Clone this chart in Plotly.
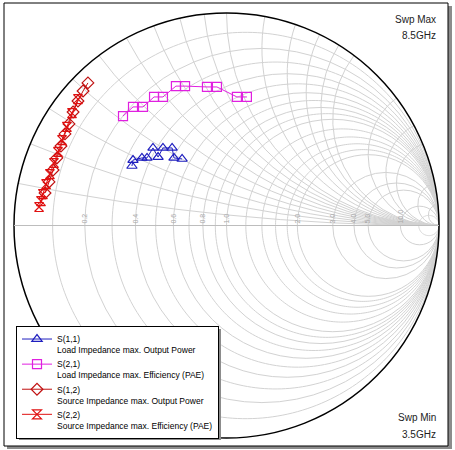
import numpy as np
import plotly.graph_objects as go

W, H = 455, 450

s11_re = [-0.445, -0.440, -0.398, -0.374, -0.346, -0.322, -0.299, -0.256, -0.247, -0.209]
s11_im = [0.280, 0.308, 0.318, 0.318, 0.365, 0.322, 0.365, 0.365, 0.318, 0.313]

s21_re = [-0.487, -0.440, -0.393, -0.341, -0.299, -0.238, -0.195, -0.092, -0.045, 0.049, 0.096]
s21_im = [0.515, 0.558, 0.558, 0.605, 0.605, 0.656, 0.656, 0.652, 0.652, 0.605, 0.605]

s12_re = [-0.652, -0.675, -0.699, -0.722, -0.741, -0.760, -0.779, -0.798, -0.816, -0.835, -0.854]
s12_im = [0.671, 0.633, 0.586, 0.534, 0.478, 0.431, 0.374, 0.318, 0.261, 0.205, 0.153]

s22_re = [-0.699, -0.727, -0.751, -0.774, -0.793, -0.812, -0.831, -0.849, -0.864, -0.873, -0.882]
s22_im = [0.595, 0.529, 0.464, 0.402, 0.346, 0.294, 0.242, 0.195, 0.148, 0.115, 0.087]

names = [
    "S(1,1)<br>Load Impedance max. Output Power",
    "S(2,1)<br>Load Impedance max. Efficiency (PAE)",
    "S(1,2)<br>Source Impedance max. Output Power",
    "S(2,2)<br>Source Impedance max. Efficiency (PAE)",
]
colors = ["#1f1fbf", "#e020e0", "#c01010", "#e01010"]
symbols = ["triangle-up-open", "square-open", "diamond-open", "hourglass-open"]

real_ticks = [0.2, 0.4, 0.6, 0.8, 1.0, 2.0, 3.0, 4.0, 5.0, 10.0]
real_minor = [0.1, 0.3, 0.5, 0.7, 0.9, 1.2, 1.4, 1.6, 1.8, 20.0]
imag_ticks = [0.1, 0.2, 0.3, 0.4, 0.5, 0.6, 0.7, 0.8, 0.9, 1.0, 1.2, 1.4, 1.6, 1.8,
              2.0, 3.0, 4.0, 5.0, 10.0, 20.0]

GRID = "#d2d2d2"


def to_z(re, im):
    g = np.array(re) + 1j * np.array(im)
    return (1 + g) / (1 - g)


fig = go.Figure()

# minor constant-resistance circles (grid)
t = np.linspace(0.02, 2 * np.pi - 0.02, 240)
for r in real_minor:
    g = r / (1 + r) + np.exp(1j * t) / (1 + r)
    z = (1 + g) / (1 - g)
    fig.add_trace(go.Scattersmith(real=z.real, imag=z.imag, mode="lines",
                                  line=dict(color=GRID, width=1),
                                  showlegend=False, hoverinfo="skip"))

for (re, im), nm, c, s in zip(
    [(s11_re, s11_im), (s21_re, s21_im), (s12_re, s12_im), (s22_re, s22_im)],
    names, colors, symbols):
    z = to_z(re, im)
    fig.add_trace(go.Scattersmith(
        real=z.real, imag=z.imag, name=nm, mode="lines+markers",
        line=dict(color=c, width=1),
        marker=dict(symbol=s, size=9, color=c, line=dict(width=1.2, color=c)),
    ))


def px(x):
    return x / W


def py(y):
    return 1 - y / H


cx, cy, R = 226.5, 225.5, 212.5

shapes = [
    dict(type="rect", xref="paper", yref="paper", x0=px(7), x1=px(452), y0=py(449), y1=py(6),
         fillcolor="#8c8c8c", line=dict(width=0), layer="below"),
    dict(type="rect", xref="paper", yref="paper", x0=px(4), x1=px(448), y0=py(446), y1=py(3),
         fillcolor="white", line=dict(width=1, color="black"), layer="below"),
    dict(type="rect", xref="paper", yref="paper", x0=px(19), x1=px(221), y0=py(440), y1=py(329),
         fillcolor="#8c8c8c", line=dict(width=0), layer="above"),
]

font = "Liberation Sans, Arial, sans-serif"
ann = []
for txt, y in [("Swp Max", 20), ("8.5GHz", 36), ("Swp Min", 417), ("3.5GHz", 434)]:
    ann.append(dict(text=txt, xref="paper", yref="paper", x=px(438), y=py(y),
                    xanchor="right", yanchor="middle", showarrow=False,
                    font=dict(family=font, size=10, color="#222")))

fig.update_layout(
    width=W, height=H,
    margin=dict(l=0, r=0, t=0, b=0),
    paper_bgcolor="white",
    shapes=shapes,
    annotations=ann,
    smith=dict(
        domain=dict(x=[px(cx - R), px(cx + R)], y=[py(cy + R), py(cy - R)]),
        bgcolor="white",
        realaxis=dict(tickvals=real_ticks, gridcolor=GRID, gridwidth=1,
                      linecolor="#bdbdbd", linewidth=1, showline=True,
                      tickangle=-90, ticks="", side="top", tickformat=".1f",
                      tickfont=dict(family=font, size=7, color="#a8a8a8")),
        imaginaryaxis=dict(tickvals=imag_ticks, gridcolor=GRID, gridwidth=1,
                           linecolor="black", linewidth=1.5, showline=True,
                           ticks="", showticklabels=False),
    ),
    legend=dict(x=px(16), y=py(326), xanchor="left", yanchor="top",
                bgcolor="white", bordercolor="black", borderwidth=1,
                font=dict(family=font, size=8.5, color="black"),
                itemwidth=30, tracegroupgap=0, valign="top"),
    showlegend=True,
)

fig.write_html("out.html")
